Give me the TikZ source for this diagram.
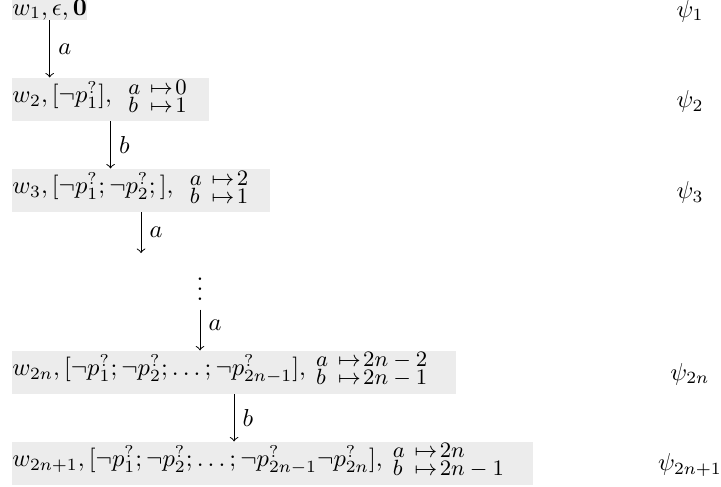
\documentclass[tikz,border=0pt]{standalone}
\usepackage{amsmath,amssymb}
\usetikzlibrary{calc}
\newcommand{\abmap}[2]{\vcenter{\baselineskip=7.6pt\lineskiplimit=-8pt\lineskip=0pt
  \ialign{\small$##$\hfil&\hspace{4pt}\small${\mapsto}\mkern2mu##$\hfil\cr a&#1\cr b&#2\cr}}}
\newcommand{\rowtext}[2]{\makebox[#1][l]{#2}}
\begin{document}
\begin{tikzpicture}[x=0.408pt,y=-0.408pt,
  rowbox/.style={fill=gray!15, inner sep=0pt, anchor=base west, text height=10pt, text depth=7.4pt},
  firstbox/.style={rowbox, text height=6.1pt, text depth=2pt},
  conn/.style={->, line width=0.4pt},
  lbl/.style={right, inner sep=3.3pt},
  psi/.style={inner sep=0pt}]
\useasboundingbox (0,0) rectangle (721,486);
\node[firstbox] (r1) at (12,15) {$w_1, \epsilon, \mathbf{0}$};
\node[rowbox] (r2) at (12,102.4) {\rowtext{80pt}{$w_2, [\neg p^?_1],\hspace{5pt}\abmap{0}{1}$}};
\node[rowbox] (r3) at (12,193.4) {\rowtext{104.9pt}{$w_3, [\neg p^?_1; \neg p^?_2;],\hspace{5pt}\abmap{2}{1}$}};
\node[inner sep=0pt, anchor=base] (dots) at (200,300) {$\vdots$};
\node[rowbox] (r4) at (12,375.4) {\rowtext{180.8pt}{$w_{2n}, [\neg p^?_1; \neg p^?_2; \ldots; \neg p^?_{2n-1}],\hspace{2.5pt}\abmap{2n-2}{2n-1}$}};
\node[rowbox] (r5) at (12,466.4) {\rowtext{212.2pt}{$w_{2n+1}, [\neg p^?_1; \neg p^?_2; \ldots; \neg p^?_{2n-1}\neg p^?_{2n}],\hspace{2.5pt}\abmap{2n}{2n-1}$}};
\coordinate (e3) at ($(r3.south)+(0,41)$);
\draw[conn] (r1.south) -- node[lbl]{$a$} (r1.south |- r2.north);
\draw[conn] (r2.south) -- node[lbl]{$b$} (r2.south |- r3.north);
\draw[conn] (r3.south) -- node[lbl]{$a$} (e3);
\draw[conn, shorten <=3.7pt] (dots.south) -- node[lbl]{$a$} (dots.south |- r4.north);
\draw[conn] (r4.south) -- node[lbl]{$b$} (r4.south |- r5.north);
\node[psi] (p1) at (690,11) {$\psi_1$};
\node[psi] (p2) at (690,101.5) {$\psi_2$};
\node[psi] (p3) at (690,192.5) {$\psi_3$};
\node[psi] (p4) at (690,374) {$\psi_{2n}$};
\node[psi] (p5) at (690,465) {$\psi_{2n+1}$};
\end{tikzpicture}
\end{document}
